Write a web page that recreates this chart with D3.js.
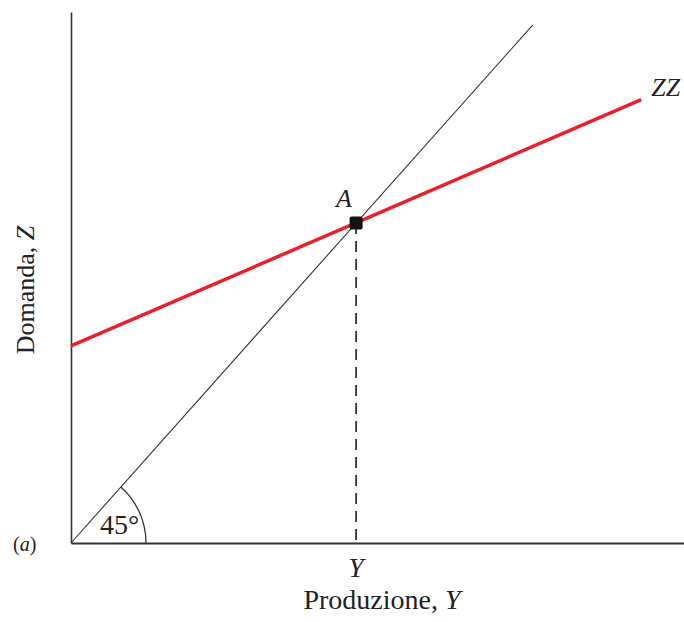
<!DOCTYPE html>
<html>
<head>
<meta charset="utf-8">
<script src="https://cdn.jsdelivr.net/npm/d3@7"></script>
<style>
  body { margin: 0; background: #fff; }
  text { font-family: "Liberation Serif", serif; fill: #222; }
</style>
</head>
<body>
<div id="chart"></div>
<script>
var svgWidth = 684;
var svgHeight = 622;

// axis ranges (model units)
var xMax = [10.75];
var zMax = [8.3];

// 45 degree line Z = Y
var diagonal = [[0, 0], [8.1, 8.1]];
// aggregate demand ZZ
var zzLine = [[0, 3.08], [10, 6.93]];
// equilibrium point A
var equilibrium = [[5, 5]];

var labels = {
  x: "Produzione, ",
  xVar: "Y",
  y: "Domanda, ",
  yVar: "Z",
  zz: "ZZ",
  point: "A",
  panel: "a",
  angle: "45°"
};

var origin = { x: 71, y: 543 };

var svg = d3.select("#chart")
  .append("svg")
  .attr("width", svgWidth)
  .attr("height", svgHeight);

var x = d3.scaleLinear()
  .domain([0, xMax[0]])
  .range([origin.x, svgWidth]);

var y = d3.scaleLinear()
  .domain([0, zMax[0]])
  .range([origin.y, 12]);

var line = d3.line()
  .x(d => x(d[0]))
  .y(d => y(d[1]));

// axes, no ticks
svg.append("g")
  .attr("transform", `translate(0, ${origin.y})`)
  .call(d3.axisBottom(x).tickValues([]).tickSizeOuter(0))
  .select(".domain")
  .attr("stroke", "#333")
  .attr("stroke-width", 2.2);

svg.append("g")
  .attr("transform", `translate(${origin.x}, 0)`)
  .call(d3.axisLeft(y).tickValues([]).tickSizeOuter(0))
  .select(".domain")
  .attr("stroke", "#333")
  .attr("stroke-width", 1.6);

// 45 degree line
svg.append("path")
  .datum(diagonal)
  .attr("d", line)
  .attr("fill", "none")
  .attr("stroke", "#333")
  .attr("stroke-width", 1.1);

// angle arc
var arcR = 75;
var ang = Math.atan2(y(0) - y(diagonal[1][1]), x(diagonal[1][0]) - x(0));
svg.append("path")
  .attr("d", d3.arc()
    .innerRadius(arcR)
    .outerRadius(arcR)
    .startAngle(Math.PI / 2 - ang)
    .endAngle(Math.PI / 2))
  .attr("transform", `translate(${x(0)}, ${y(0)})`)
  .attr("fill", "none")
  .attr("stroke", "#333")
  .attr("stroke-width", 1.3);

svg.append("text")
  .attr("x", 100)
  .attr("y", 534)
  .style("font-size", "28px")
  .text(labels.angle);

// ZZ line
svg.append("path")
  .datum(zzLine)
  .attr("d", line)
  .attr("fill", "none")
  .attr("stroke", "#e8202a")
  .attr("stroke-width", 3.5);

svg.append("text")
  .attr("x", x(zzLine[1][0]) + 10)
  .attr("y", y(zzLine[1][1]) - 4)
  .style("font-size", "26px")
  .style("font-style", "italic")
  .text(labels.zz);

// dashed drop line
svg.selectAll(".drop")
  .data(equilibrium)
  .enter()
  .append("line")
  .attr("class", "drop")
  .attr("x1", d => x(d[0]))
  .attr("x2", d => x(d[0]))
  .attr("y1", d => y(d[1]))
  .attr("y2", y(0))
  .attr("stroke", "#333")
  .attr("stroke-width", 1.8)
  .attr("stroke-dasharray", "11,7");

// point A
svg.selectAll(".pt")
  .data(equilibrium)
  .enter()
  .append("rect")
  .attr("class", "pt")
  .attr("x", d => x(d[0]) - 6.5)
  .attr("y", d => y(d[1]) - 6.5)
  .attr("width", 13)
  .attr("height", 13)
  .attr("rx", 2)
  .attr("fill", "#111");

svg.append("text")
  .attr("x", x(equilibrium[0][0]) - 20)
  .attr("y", y(equilibrium[0][1]) - 16)
  .style("font-size", "26px")
  .style("font-style", "italic")
  .text(labels.point);

// Y tick label
svg.append("text")
  .attr("x", x(equilibrium[0][0]))
  .attr("y", 577)
  .attr("text-anchor", "middle")
  .style("font-size", "27px")
  .style("font-style", "italic")
  .text(labels.xVar);

// x axis title
var xt = svg.append("text")
  .attr("x", 382)
  .attr("y", 609)
  .attr("text-anchor", "middle")
  .style("font-size", "28px")
  .text(labels.x);
xt.append("tspan").style("font-style", "italic").text(labels.xVar);

// y axis title
var yt = svg.append("text")
  .attr("transform", `translate(34, 290) rotate(-90)`)
  .attr("text-anchor", "middle")
  .style("font-size", "26px")
  .text(labels.y);
yt.append("tspan").style("font-style", "italic").text(labels.yVar);

// panel label
var pl = svg.append("text")
  .attr("x", 13)
  .attr("y", 551)
  .style("font-size", "20px")
  .text("(");
pl.append("tspan").style("font-style", "italic").text(labels.panel);
pl.append("tspan").text(")");
</script>
</body>
</html>
